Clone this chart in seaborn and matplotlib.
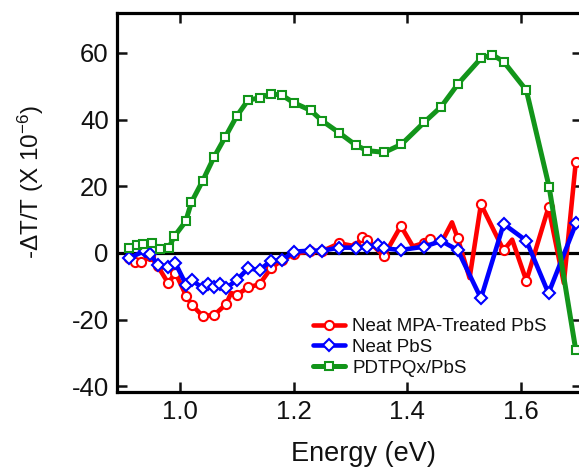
import matplotlib
matplotlib.use("Agg")
import matplotlib.pyplot as plt
import seaborn as sns
import numpy as np
import pandas as pd

# ---- data ----
mpa_energy = [0.910, 0.921, 0.932, 0.948, 0.961, 0.979, 0.992, 1.011, 1.021, 1.040,
              1.060, 1.081, 1.090, 1.100, 1.120, 1.140, 1.160, 1.180, 1.200, 1.229,
              1.250, 1.280, 1.310, 1.320, 1.330, 1.359, 1.389, 1.410, 1.430, 1.441,
              1.460, 1.479, 1.489, 1.510, 1.530, 1.570, 1.585, 1.610, 1.649, 1.676, 1.697]
mpa_signal = [-1.5, -2.6, -2.6, -1.0, -4.0, -9.0, -6.0, -12.9, -15.6, -18.9,
              -18.6, -15.4, -12.0, -12.6, -10.3, -9.4, -4.6, -2.1, -0.3, 0.5,
              0.5, 2.9, 2.0, 4.7, 3.9, -0.9, 8.1, 2.0, 3.0, 4.1,
              3.0, 9.2, 4.5, -7.5, 14.6, 0.8, 4.0, -8.3, 13.7, -9.0, 27.2]
mpa_no_marker = [1.090, 1.410, 1.460, 1.479, 1.510, 1.585, 1.676]

neat_energy = [0.910, 0.938, 0.948, 0.961, 0.979, 0.992, 1.011, 1.021, 1.040, 1.050,
               1.060, 1.070, 1.081, 1.100, 1.120, 1.140, 1.160, 1.180, 1.200, 1.229,
               1.250, 1.280, 1.310, 1.330, 1.349, 1.359, 1.389, 1.430, 1.460, 1.489,
               1.530, 1.570, 1.610, 1.649, 1.698]
neat_signal = [-1.6, 0.7, -0.3, -3.6, -4.1, -3.1, -9.6, -8.1, -10.6, -9.4,
               -10.3, -9.3, -10.6, -8.1, -4.6, -5.1, -2.4, -2.1, 0.4, 0.7,
               0.7, 1.6, 1.6, 1.9, 2.4, 1.4, 0.9, 1.9, 3.6, 0.9,
               -13.6, 8.7, 3.7, -12.1, 9.1]

pdt_energy = [0.910, 0.925, 0.935, 0.950, 0.965, 0.980, 0.990, 1.010, 1.020, 1.040,
              1.060, 1.080, 1.100, 1.120, 1.140, 1.160, 1.180, 1.200, 1.230, 1.250,
              1.280, 1.310, 1.330, 1.360, 1.390, 1.430, 1.460, 1.490, 1.530, 1.550,
              1.570, 1.610, 1.650, 1.697]
pdt_signal = [1.5, 2.3, 2.7, 2.9, 1.3, 1.5, 5.0, 9.5, 15.2, 21.7,
              28.8, 34.9, 41.1, 45.9, 46.5, 47.8, 47.3, 45.1, 42.8, 39.7,
              36.1, 32.3, 30.7, 30.2, 32.6, 39.2, 43.9, 50.8, 58.4, 59.5,
              57.4, 48.8, 19.9, -29.1]

labels = ["Neat MPA-Treated PbS", "Neat PbS", "PDTPQx/PbS"]
x_ticks = [1.0, 1.2, 1.4, 1.6]
y_ticks = [-40, -20, 0, 20, 40, 60]

sns.set_style("white")
plt.rcParams['font.family'] = ['Liberation Sans', 'DejaVu Sans']
plt.rcParams['mathtext.fontset'] = 'custom'
plt.rcParams['mathtext.rm'] = 'Liberation Sans'
plt.rcParams['mathtext.it'] = 'Liberation Sans'

fig = plt.figure(figsize=(5.79, 4.67), dpi=100)
ax = fig.add_axes([117/579, 75/467, 465/579, 379/467])

ax.axhline(0, color='black', lw=2.3, zorder=1)

mpa_marks = [i for i, e in enumerate(mpa_energy) if e not in mpa_no_marker]
series = [
    (mpa_energy, mpa_signal, '#ff0000', 'o', labels[0], 2, 6.6, mpa_marks),
    (neat_energy, neat_signal, '#0000ff', 'D', labels[1], 3, 5.8, None),
    (pdt_energy, pdt_signal, '#12951a', 's', labels[2], 4, 6.4, None),
]
for xs, ys, col, mk, lab, z, ms, mev in series:
    df = pd.DataFrame({"Energy": xs, "Signal": ys})
    sns.lineplot(data=df, x="Energy", y="Signal", ax=ax, color=col,
                 lw=3.6 if mk == 's' else 3.3,
                 marker=mk, markersize=ms, markerfacecolor='white',
                 markeredgecolor=col, markeredgewidth=1.5, label=lab,
                 zorder=z, errorbar=None, markevery=mev)

ax.set_xlim(0.889, 1.708)
ax.set_ylim(-41.7, 72)
ax.set_xticks(x_ticks)
ax.set_xticklabels([f"{t:.1f}" for t in x_ticks])
ax.set_yticks(y_ticks)
ax.set_yticklabels([str(t) for t in y_ticks])

for s in ax.spines.values():
    s.set_visible(True)
    s.set_color('black')
    s.set_linewidth(2.3)

ax.tick_params(axis='both', which='major', direction='in', length=7, width=1.8,
               labelsize=18.5, top=True, right=True, bottom=True, left=True,
               pad=6, colors='#111111')

ax.set_xlabel("Energy (eV)", fontsize=19.5, color='#111111')
ax.xaxis.set_label_coords(0.53, -0.13)
ax.set_ylabel(r"-ΔT/T (X 10$^{-6}$)", fontsize=17.5, color='#111111')
ax.yaxis.set_label_coords(-0.152, 0.555)

leg = ax.legend(loc='upper left', bbox_to_anchor=(0.405, 0.215), frameon=False,
                fontsize=13.5, handlelength=1.7, handletextpad=0.4,
                labelspacing=0.2, borderaxespad=0)
for t in leg.get_texts():
    t.set_color('#111111')

fig.savefig("out.png", dpi=100)
